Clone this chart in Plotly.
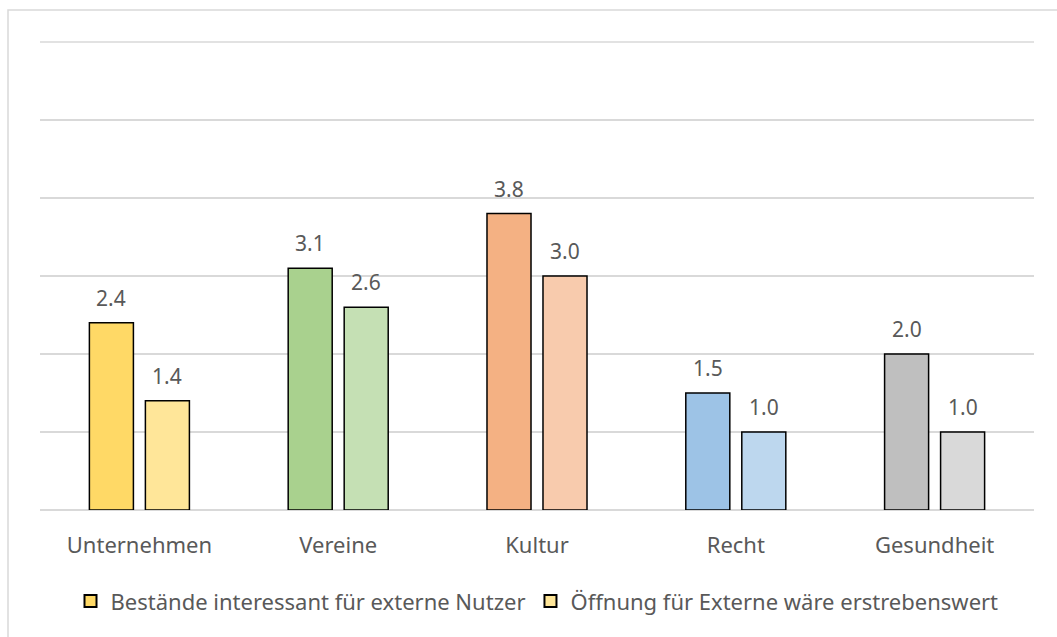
import plotly.graph_objects as go

categories = ["Unternehmen", "Vereine", "Kultur", "Recht", "Gesundheit"]
series_names = ["Bestände interessant für externe Nutzer", "Öffnung für Externe wäre erstrebenswert"]
bestaende = [2.4, 3.1, 3.8, 1.5, 2.0]
oeffnung = [1.4, 2.6, 3.0, 1.0, 1.0]

dark_colors = ["#FFD966", "#A9D18E", "#F4B183", "#9DC3E6", "#BFBFBF"]
light_colors = ["#FFE699", "#C5E0B4", "#F8CBAD", "#BDD7EE", "#D9D9D9"]

FONT = "Noto Sans"
TEXT_COLOR = "#595959"
GRID = "#D9D9D9"

fig = go.Figure()
for name, vals, cols in [(series_names[0], bestaende, dark_colors),
                         (series_names[1], oeffnung, light_colors)]:
    fig.add_trace(go.Bar(
        name=name, x=categories, y=vals,
        marker=dict(color=cols, line=dict(color="#000000", width=1.5)),
    ))

# value labels above each bar
for vals, shift in [(bestaende, -28), (oeffnung, 28)]:
    for cat, v in zip(categories, vals):
        fig.add_annotation(
            x=cat, y=v, text=f"{v:.1f}", showarrow=False,
            xshift=shift, yshift=9, yanchor="bottom",
            font=dict(family=FONT, size=21, color=TEXT_COLOR),
        )

# top gridline along the upper edge of the plot area
fig.add_shape(type="line", xref="paper", yref="paper", x0=0, x1=1, y0=1, y1=1,
              line=dict(color=GRID, width=1.5), layer="below")

# outer chart frame
fig.add_shape(type="rect", xref="paper", yref="paper",
              x0=-0.0322, x1=1.05, y0=-0.3, y1=1.0684,
              line=dict(color=GRID, width=1.5), fillcolor="rgba(0,0,0,0)")

fig.update_layout(
    width=1057, height=637,
    margin=dict(l=40, r=23, t=42, b=127),
    paper_bgcolor="white", plot_bgcolor="white",
    barmode="group", bargap=0.4366, bargroupgap=0.214,
    font=dict(family=FONT, size=22, color=TEXT_COLOR),
    showlegend=True,
    legend=dict(orientation="h", x=0.5, xanchor="center", y=-0.15, yanchor="top",
                font=dict(family=FONT, size=22, color=TEXT_COLOR),
                itemsizing="constant", traceorder="normal"),
    xaxis=dict(showgrid=False, showline=False, ticks="", tickfont=dict(size=22),
               ticklabelstandoff=20),
    yaxis=dict(range=[0, 6], dtick=1, showticklabels=False, showgrid=True,
               gridcolor=GRID, gridwidth=1.5, zeroline=True, zerolinecolor=GRID,
               zerolinewidth=1.5, showline=False),
)

fig.write_html("out.html")
